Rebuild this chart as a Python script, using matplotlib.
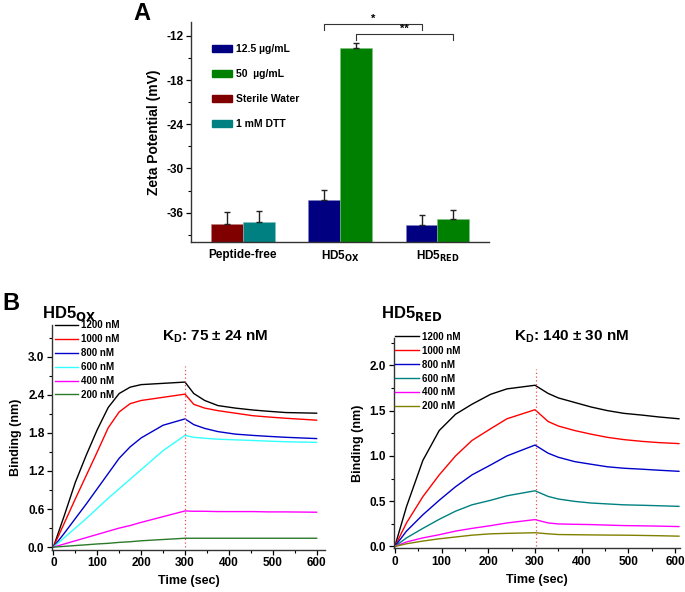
import numpy as np
import matplotlib
matplotlib.use('Agg')
import matplotlib.pyplot as plt
from matplotlib.ticker import MultipleLocator, FormatStrFormatter
from matplotlib.patches import Patch

plt.rcParams['font.family'] = ['Liberation Sans', 'DejaVu Sans']
plt.rcParams['font.weight'] = 'bold'
plt.rcParams['axes.labelweight'] = 'bold'
plt.rcParams['mathtext.default'] = 'bf'
plt.rcParams['axes.unicode_minus'] = False

# ---- panel A data (zeta potential, mV) ----
groups = ['Peptide-free', 'HD5$_{OX}$', 'HD5$_{RED}$']
control_labels = ['Sterile Water', '1 mM DTT']
control_vals = [-37.6, -37.2]
control_err = [1.7, 1.4]
low_dose_vals = [-34.3, -37.7]      # 12.5 ug/mL for HD5ox, HD5red
low_dose_err = [1.4, 1.4]
high_dose_vals = [-13.7, -36.9]     # 50 ug/mL
high_dose_err = [0.7, 1.3]

# ---- panel B data (binding, nm) ----
conc_labels = ['1200 nM', '1000 nM', '800 nM', '600 nM', '400 nM', '200 nM']

t_ox = [0, 25, 50, 75, 100, 125, 150, 175, 200, 250, 300,
        320, 345, 375, 415, 455, 490, 530, 600]
ox_1200 = [0, 0.5, 1.02, 1.45, 1.85, 2.2, 2.42, 2.52, 2.56, 2.58, 2.6,
           2.42, 2.31, 2.23, 2.19, 2.16, 2.14, 2.12, 2.11]
ox_1000 = [0, 0.38, 0.76, 1.13, 1.5, 1.88, 2.13, 2.26, 2.31, 2.36, 2.41,
           2.25, 2.19, 2.15, 2.11, 2.07, 2.05, 2.03, 2.0]
ox_800 = [0, 0.22, 0.45, 0.68, 0.92, 1.16, 1.4, 1.58, 1.72, 1.92, 2.02,
          1.93, 1.87, 1.82, 1.78, 1.76, 1.745, 1.73, 1.71]
ox_600 = [0, 0.15, 0.3, 0.45, 0.61, 0.77, 0.92, 1.07, 1.22, 1.52, 1.76,
          1.73, 1.715, 1.70, 1.69, 1.68, 1.67, 1.66, 1.65]
ox_400 = [0, 0.05, 0.1, 0.15, 0.2, 0.25, 0.3, 0.34, 0.39, 0.48, 0.57,
          0.565, 0.565, 0.56, 0.56, 0.56, 0.555, 0.555, 0.55]
ox_200 = [0, 0.012, 0.025, 0.037, 0.05, 0.06, 0.075, 0.085, 0.1, 0.12, 0.14,
          0.14, 0.14, 0.14, 0.14, 0.14, 0.14, 0.14, 0.14]

t_red = [0, 25, 60, 95, 130, 165, 205, 240, 300,
         328, 350, 385, 420, 455, 490, 530, 565, 608]
red_1200 = [0, 0.44, 0.95, 1.28, 1.46, 1.57, 1.68, 1.74, 1.78,
            1.69, 1.64, 1.59, 1.54, 1.5, 1.47, 1.45, 1.43, 1.41]
red_1000 = [0, 0.26, 0.55, 0.79, 1.0, 1.17, 1.3, 1.41, 1.51,
            1.38, 1.33, 1.28, 1.24, 1.205, 1.18, 1.16, 1.147, 1.136]
red_800 = [0, 0.17, 0.35, 0.51, 0.66, 0.79, 0.9, 1.0, 1.12,
           1.03, 0.985, 0.937, 0.908, 0.88, 0.864, 0.853, 0.842, 0.83]
red_600 = [0, 0.095, 0.2, 0.3, 0.39, 0.46, 0.51, 0.56, 0.615,
           0.553, 0.524, 0.498, 0.48, 0.47, 0.46, 0.455, 0.45, 0.443]
red_400 = [0, 0.05, 0.095, 0.13, 0.17, 0.2, 0.23, 0.26, 0.297,
           0.26, 0.249, 0.245, 0.242, 0.236, 0.231, 0.228, 0.225, 0.22]
red_200 = [0, 0.03, 0.06, 0.085, 0.105, 0.125, 0.14, 0.145, 0.152,
           0.14, 0.132, 0.13, 0.128, 0.126, 0.125, 0.122, 0.119, 0.114]

switch_time = 300

fig = plt.figure(figsize=(6.85, 5.92), dpi=100)


def style_axes(ax):
    ax.spines['top'].set_visible(False)
    ax.spines['right'].set_visible(False)
    for s in ['left', 'bottom']:
        ax.spines[s].set_linewidth(1.0)
        ax.spines[s].set_color('#333333')
    ax.tick_params(which='major', direction='out', length=3.5, width=0.9,
                   labelsize=8.5, pad=2)
    ax.tick_params(which='minor', direction='out', length=2, width=0.8)


# ---------------- panel A ----------------
axA = fig.add_axes([0.279, 0.591, 0.435, 0.372])
style_axes(axA)
w = 0.327
pos = np.arange(1, 4)
base = -40
ekw = dict(elinewidth=1, capthick=1, ecolor='#222222')
axA.bar(pos[0] - w / 2, np.array(control_vals[0]) - base, w, bottom=base,
        color='#800000', edgecolor='#c08080', linewidth=0.4,
        yerr=[[0], [control_err[0]]], capsize=2.5, error_kw=ekw)
axA.bar(pos[0] + w / 2, np.array(control_vals[1]) - base, w, bottom=base,
        color='#008080', edgecolor='#80c0c0', linewidth=0.4,
        yerr=[[0], [control_err[1]]], capsize=2.5, error_kw=ekw)
axA.bar(pos[1:] - w / 2, np.array(low_dose_vals) - base, w, bottom=base,
        color='#000080', edgecolor='#8080c0', linewidth=0.4,
        yerr=[[0, 0], low_dose_err], capsize=2.5, error_kw=ekw)
axA.bar(pos[1:] + w / 2, np.array(high_dose_vals) - base, w, bottom=base,
        color='#008000', edgecolor='#80c080', linewidth=0.4,
        yerr=[[0, 0], high_dose_err], capsize=2.5, error_kw=ekw)

axA.set_xlim(0.47, 3.53)
axA.set_ylim(-40, -10.1)
axA.yaxis.set_minor_locator(MultipleLocator(3))
axA.set_yticks([-12, -18, -24, -30, -36])
axA.set_xticks(pos)
axA.set_xticklabels(groups)
axA.tick_params(axis='x', length=0, pad=5)
axA.set_ylabel('Zeta Potential (mV)', fontsize=10, labelpad=4)


# significance brackets
def bracket(ax, x1, x2, y, drop, label):
    ax.plot([x1, x1, x2, x2], [y - drop, y, y, y - drop], color='#333333',
            lw=0.8, clip_on=False)
    ax.text((x1 + x2) / 2, y + 0.1, label, ha='center', va='bottom',
            fontsize=8, clip_on=False)


bracket(axA, pos[1] - w / 2, pos[2] - w / 2, -10.45, 0.8, '*')
bracket(axA, pos[1] + w / 2, pos[2] + w / 2, -11.8, 0.75, '**')

handles = [Patch(color='#000080'), Patch(color='#008000'),
           Patch(color='#800000'), Patch(color='#008080')]
labels = ['12.5 µg/mL', '50  µg/mL'] + control_labels
axA.legend(handles, labels, loc='upper left', bbox_to_anchor=(0.07, 0.9),
           frameon=False, fontsize=7.5, handlelength=1.9, handleheight=0.65,
           handletextpad=0.4, labelspacing=1.45, borderaxespad=0, borderpad=0)

fig.text(0.207, 0.978, 'A', fontsize=17, fontweight='bold', ha='center', va='center')

# ---------------- panel B left ----------------
axL = fig.add_axes([0.076, 0.0715, 0.399, 0.3796])
style_axes(axL)
ox_series = [ox_1200, ox_1000, ox_800, ox_600, ox_400, ox_200]
ox_colors = ['#000000', '#ff0000', '#0000cc', '#33ffff', '#ff00ff', '#2a7a2a']
for vals, c, lab in zip(ox_series, ox_colors, conc_labels):
    axL.plot(t_ox, vals, color=c, lw=1.0, label=lab)
axL.plot([switch_time, switch_time], [0, 2.85], color='#e05050', lw=0.9,
         ls=(0, (1, 2)))
axL.set_xlim(-3, 620)
axL.set_ylim(-0.04, 3.5)
axL.xaxis.set_major_locator(MultipleLocator(100))
axL.xaxis.set_minor_locator(MultipleLocator(50))
axL.yaxis.set_minor_locator(MultipleLocator(0.3))
axL.set_yticks([0, 0.6, 1.2, 1.8, 2.4, 3.0])
axL.yaxis.set_major_formatter(FormatStrFormatter('%.1f'))
axL.set_xlabel('Time (sec)', fontsize=9, labelpad=4)
axL.set_ylabel('Binding (nm)', fontsize=9, labelpad=4)
axL.legend(loc='upper left', bbox_to_anchor=(0.01, 1.02), frameon=False,
           fontsize=7, handlelength=2.4, handletextpad=0.3, labelspacing=0.4,
           borderaxespad=0, borderpad=0)
axL.text(0.597, 0.947, r'K$_{\mathregular{D}}$: 75 ± 24 nM', transform=axL.transAxes,
         fontsize=11, ha='center', va='center')

# ---------------- panel B right ----------------
axR = fig.add_axes([0.575, 0.0738, 0.4175, 0.355])
style_axes(axR)
red_series = [red_1200, red_1000, red_800, red_600, red_400, red_200]
red_colors = ['#000000', '#ff0000', '#0000cc', '#008080', '#ff00ff', '#808000']
for vals, c, lab in zip(red_series, red_colors, conc_labels):
    axR.plot(t_red, vals, color=c, lw=1.0, label=lab)
axR.plot([switch_time + 2, switch_time + 2], [0, 1.96], color='#e05050', lw=0.9,
         ls=(0, (1, 2)))
axR.set_xlim(-2, 610)
axR.set_ylim(-0.02, 2.3)
axR.xaxis.set_major_locator(MultipleLocator(100))
axR.xaxis.set_minor_locator(MultipleLocator(50))
axR.yaxis.set_major_locator(MultipleLocator(0.5))
axR.yaxis.set_minor_locator(MultipleLocator(0.25))
axR.yaxis.set_major_formatter(FormatStrFormatter('%.1f'))
axR.set_xlabel('Time (sec)', fontsize=9, labelpad=4)
axR.set_ylabel('Binding (nm)', fontsize=9, labelpad=4)
axR.legend(loc='upper left', bbox_to_anchor=(0.005, 1.03), frameon=False,
           fontsize=7, handlelength=2.4, handletextpad=0.3, labelspacing=0.4,
           borderaxespad=0, borderpad=0)
axR.text(0.622, 1.005, r'K$_{\mathregular{D}}$: 140 ± 30 nM', transform=axR.transAxes,
         fontsize=11, ha='center', va='center')

fig.text(0.003, 0.488, 'B', fontsize=17, fontweight='bold', ha='left', va='center')
fig.text(0.061, 0.471, 'HD5$_{OX}$', fontsize=12, fontweight='bold', ha='left', va='center')
fig.text(0.556, 0.471, 'HD5$_{RED}$', fontsize=12, fontweight='bold', ha='left', va='center')

fig.savefig('out.png', dpi=100)
